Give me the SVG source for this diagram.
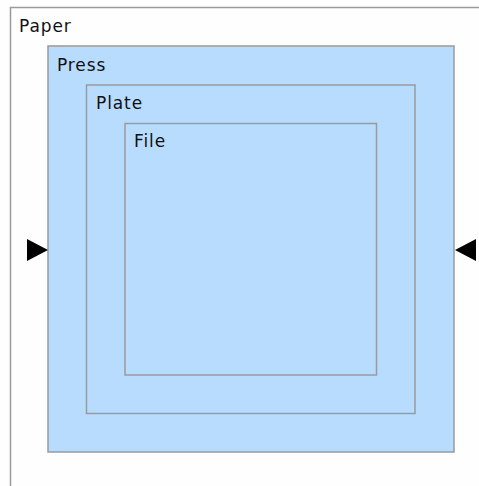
<svg xmlns="http://www.w3.org/2000/svg" width="479" height="486" viewBox="0 0 479 486">
<style>
.box{fill:#b8dcfe;stroke:#9a9a9a;stroke-width:1.5}
.lbl{font-family:"DejaVu Sans",sans-serif;font-size:17px;letter-spacing:0.9px;fill:#111}
.frame{fill:none;stroke:#9a9a9a;stroke-width:1.5}
.port{fill:#000}
</style>
<rect width="479" height="486" fill="#fefefe"/>
<g id="paper">
<path class="frame" d="M10.5,486 V7.5 H479"/>
<text class="lbl" x="19" y="32">Paper</text>
</g>
<g id="press">
<rect class="box" x="48" y="46" width="406" height="406"/>
<text class="lbl" x="57" y="71">Press</text>
</g>
<g id="plate">
<rect class="box" x="86.5" y="85" width="328.5" height="328.5"/>
<text class="lbl" x="96" y="109">Plate</text>
</g>
<g id="file">
<rect class="box" x="125" y="123.5" width="251.5" height="251.5"/>
<text class="lbl" x="134" y="147">File</text>
</g>
<g id="connectors">
<polygon class="port" points="27,239 48,250 27,261"/>
<polygon class="port" points="476,239 455,250 476,261"/>
</g>
</svg>
